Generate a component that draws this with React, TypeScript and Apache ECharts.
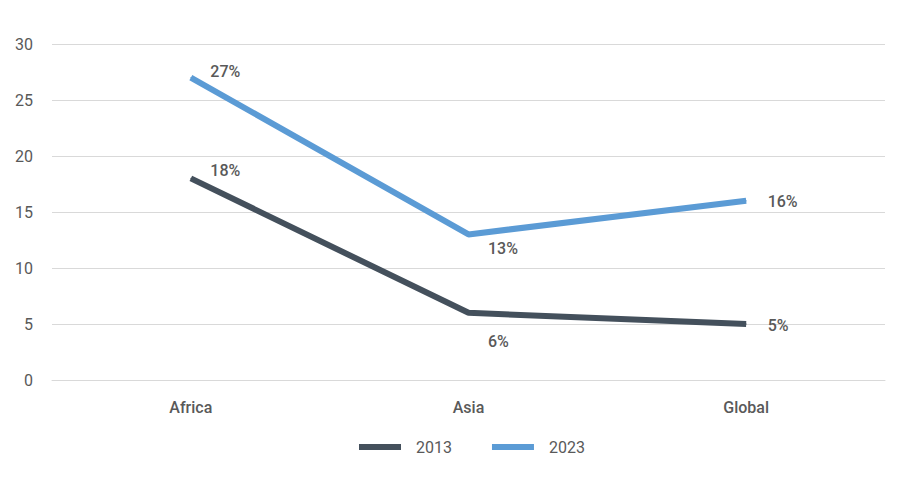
import React, { useEffect, useRef } from "react";
import * as echarts from "echarts";

const categories = ["Africa", "Asia", "Global"];
const values2013 = [18, 6, 5];
const values2023 = [27, 13, 16];
const yTicks = { min: 0, max: 30, interval: 5 };

const offsets2013 = [[19, -8], [19, 29], [21, 1]];
const offsets2023 = [[19, -6], [19, 14], [21, 1]];

const labelStyle = {
  show: true,
  position: "right" as const,
  distance: 0,
  fontFamily: "Roboto",
  fontSize: 16,
  fontWeight: 500,
  color: "#595959",
  formatter: "{c}%",
};

function buildData(vals: number[], offs: number[][]) {
  return vals.map((v, i) => ({ value: v, label: { ...labelStyle, offset: offs[i] } }));
}

export default function App() {
  const ref = useRef<HTMLDivElement>(null);
  useEffect(() => {
    const chart = echarts.init(ref.current!, undefined, { renderer: "svg" });
    chart.setOption({
      animation: false,
      textStyle: { fontFamily: "Roboto" },
      grid: { left: 52, right: 20, top: 44, bottom: 120 },
      legend: {
        top: 434,
        left: 354,
        icon: "rect",
        itemWidth: 42,
        itemHeight: 6,
        itemGap: 40,
        textStyle: { fontFamily: "Roboto", fontSize: 16, color: "#595959", padding: [0, 0, 0, 10] },
        data: ["2013", "2023"],
      },
      xAxis: {
        type: "category",
        data: categories,
        boundaryGap: true,
        axisLine: { show: true, lineStyle: { color: "#d9d9d9", width: 1 } },
        axisTick: { show: false },
        axisLabel: { margin: 19, fontFamily: "Roboto", fontSize: 16, fontWeight: 500, color: "#595959" },
      },
      yAxis: {
        type: "value",
        min: yTicks.min,
        max: yTicks.max,
        interval: yTicks.interval,
        axisLine: { show: false },
        axisTick: { show: false },
        splitLine: { lineStyle: { color: "#d9d9d9", width: 1 } },
        axisLabel: { margin: 19, fontFamily: "Roboto", fontSize: 16, color: "#595959" },
      },
      series: [
        {
          name: "2013",
          type: "line",
          data: buildData(values2013, offsets2013),
          symbol: "circle",
          symbolSize: 1,
          showSymbol: true,
          lineStyle: { width: 6, color: "#44505c" },
          itemStyle: { color: "#44505c" },
        },
        {
          name: "2023",
          type: "line",
          data: buildData(values2023, offsets2023),
          symbol: "circle",
          symbolSize: 1,
          showSymbol: true,
          lineStyle: { width: 6, color: "#5b9bd5" },
          itemStyle: { color: "#5b9bd5" },
        },
      ],
    });
    return () => chart.dispose();
  }, []);
  return <div ref={ref} style={{ width: 905, height: 500, position: "absolute", left: 0, top: 0 }} />;
}
